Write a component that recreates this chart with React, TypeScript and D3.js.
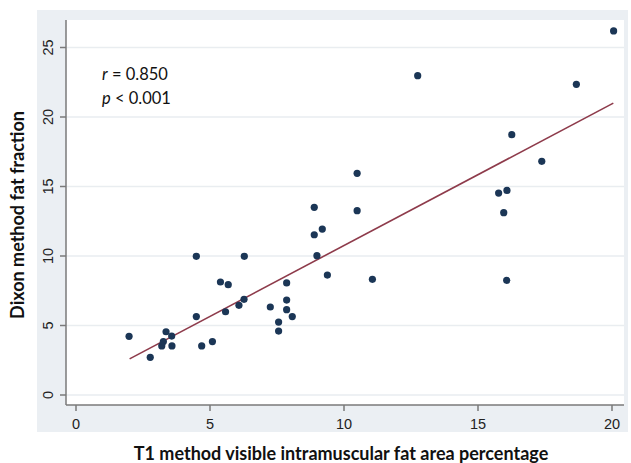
import React from 'react'
import * as d3 from 'd3'

// T1 visible intramuscular fat area % vs Dixon fat fraction
const xVals = [1.98, 2.77, 3.2, 3.26, 3.36, 3.57, 3.58, 4.49, 4.49, 4.69, 5.09, 5.39, 5.68, 5.58, 6.08, 6.28, 6.27,
  7.25, 7.56, 7.56, 7.86, 7.86, 7.86, 8.07, 8.89, 8.89, 9.19, 8.99, 9.38, 10.49, 10.49, 11.06, 12.75,
  15.77, 15.96, 16.07, 16.08, 16.26, 17.38, 18.67, 20.06]
const yVals = [4.22, 2.71, 3.53, 3.84, 4.55, 4.24, 3.53, 9.98, 5.64, 3.53, 3.84, 8.13, 7.94, 5.99, 6.45, 9.98, 6.88,
  6.33, 5.25, 4.6, 8.06, 6.83, 6.14, 5.64, 13.5, 11.53, 11.94, 10.02, 8.63, 15.95, 13.26, 8.32, 22.97,
  14.53, 13.12, 8.25, 14.72, 18.73, 16.81, 22.35, 26.19]

const fitX = [2.0, 20.05]
const fitY = [2.6, 21.0]

const xTicks = [0, 5, 10, 15, 20]
const yTicks = [0, 5, 10, 15, 20, 25]

const width = 631
const height = 463

export default function App() {
  const x = d3.scaleLinear().domain([0, 20]).range([76, 612])
  const y = d3.scaleLinear().domain([0, 25]).range([395, 47.5])

  const left = 66
  const right = 624
  const top = 20
  const bottom = 405

  const line = d3.line<number>()
    .x((d, i) => x(fitX[i]))
    .y(d => y(d))

  return (
    <svg width={width} height={height} style={{ position: 'absolute', left: 0, top: 0, background: '#fff' }}>
      <rect x={37} y={10} width={591} height={422} fill="#ebeff3" />
      <rect x={left} y={top} width={right - left} height={bottom - top} fill="#fff" />

      {yTicks.map(t => (
        <line key={'g' + t} x1={left} x2={right} y1={y(t)} y2={y(t)} stroke="#e9edf0" strokeWidth={1.5} />
      ))}

      <line x1={left} x2={left} y1={top} y2={bottom} stroke="#7a7a7a" strokeWidth={1.5} />
      <line x1={left} x2={right} y1={bottom} y2={bottom} stroke="#7a7a7a" strokeWidth={1.5} />

      {yTicks.map(t => (
        <g key={'y' + t}>
          <line x1={left - 6} x2={left} y1={y(t)} y2={y(t)} stroke="#7a7a7a" strokeWidth={1.5} />
          <text transform={`translate(52.5,${y(t)}) rotate(-90)`} textAnchor="middle"
            fontFamily="Liberation Sans, Arial, sans-serif" fontSize={14.5} fill="#222">{t}</text>
        </g>
      ))}
      {xTicks.map(t => (
        <g key={'x' + t}>
          <line x1={x(t)} x2={x(t)} y1={bottom} y2={bottom + 6} stroke="#7a7a7a" strokeWidth={1.5} />
          <text x={x(t)} y={428.5} textAnchor="middle"
            fontFamily="Liberation Sans, Arial, sans-serif" fontSize={14.5} fill="#222">{t}</text>
        </g>
      ))}

      <path d={line(fitY) || ''} fill="none" stroke="#8e3b4b" strokeWidth={1.6} />

      {xVals.map((v, i) => (
        <circle key={i} cx={x(v)} cy={y(yVals[i])} r={3.6} fill="#1b3656" />
      ))}

      <g fontFamily="Lato, Open Sans, sans-serif" fontSize={16.5} fill="#111">
        <text x={102} y={80}><tspan fontStyle="italic">r</tspan> = 0.850</text>
        <text x={102} y={104}><tspan fontStyle="italic">p</tspan> &lt; 0.001</text>
      </g>

      <text x={341} y={460} textAnchor="middle" fontFamily="Lato, Open Sans, sans-serif"
        fontWeight="bold" fontSize={18} fill="#111">T1 method visible intramuscular fat area percentage</text>
      <text transform="translate(24,215) rotate(-90)" textAnchor="middle" fontFamily="Lato, Open Sans, sans-serif"
        fontWeight="bold" fontSize={18} fill="#111">Dixon method fat fraction</text>
    </svg>
  )
}
